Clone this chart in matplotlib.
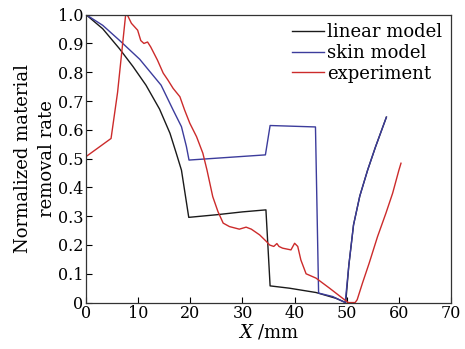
import matplotlib
matplotlib.use("Agg")
import matplotlib.pyplot as plt
from matplotlib.ticker import FixedLocator, FuncFormatter

plt.rcParams['font.family'] = ['DejaVu Serif']
plt.rcParams['mathtext.fontset'] = 'dejavuserif'

linear_x = [0, 3.2, 6.4, 9.0, 11.5, 14.1, 16.1, 17.3, 18.3, 19.7, 25, 30, 34.5, 35.3,
            39.0, 44.1, 47.9, 49.8, 50.4, 51.3, 52.5, 54.0, 55.5, 57.6]
linear_y = [1.0, 0.951, 0.882, 0.82, 0.755, 0.672, 0.588, 0.519, 0.46, 0.296, 0.305,
            0.315, 0.322, 0.058, 0.05, 0.035, 0.015, 0.0, 0.13, 0.27, 0.37, 0.46, 0.54, 0.644]

skin_x = [0, 3.2, 6.4, 10.3, 14.4, 16.7, 18.3, 19.25, 19.75, 34.4, 35.3, 44.0, 44.6, 47.3, 49.7,
          50.4, 51.3, 52.5, 54.0, 55.5, 57.6]
skin_y = [1.0, 0.963, 0.911, 0.845, 0.755, 0.669, 0.611, 0.542, 0.495, 0.513, 0.615, 0.61, 0.033,
          0.021, 0.0, 0.13, 0.27, 0.37, 0.46, 0.54, 0.644]

exp_x = [0, 4.8, 6.05, 7.6, 7.9, 8.7, 9.9, 10.5, 11.1, 11.8, 12.4, 13.7, 14.8, 15.7, 16.7, 18.0,
         18.9, 19.9, 21.2, 22.4, 23.2, 24.3, 25.3, 26.3, 27.5, 29.4, 30.7, 31.7, 33.3, 34.6, 35.2,
         36.0, 36.6, 37.0, 37.7, 39.3, 40.0, 40.6, 41.2, 42.2, 44.1, 46.7, 49.2, 50.3, 51.6, 52.0,
         53.0, 54.3, 55.9, 57.5, 58.8, 60.0, 60.4]
exp_y = [0.507, 0.57, 0.73, 1.0, 1.0, 0.97, 0.946, 0.91, 0.90, 0.905, 0.888, 0.842, 0.797, 0.773,
         0.744, 0.715, 0.669, 0.623, 0.576, 0.519, 0.46, 0.368, 0.316, 0.276, 0.264, 0.255, 0.262,
         0.255, 0.235, 0.212, 0.20, 0.195, 0.205, 0.195, 0.189, 0.183, 0.206, 0.195, 0.148, 0.10,
         0.085, 0.05, 0.015, 0.0, 0.0, 0.01, 0.067, 0.137, 0.229, 0.31, 0.38, 0.46, 0.484]

labels = ["linear model", "skin model", "experiment"]
x_ticks = [0, 10, 20, 30, 40, 50, 60, 70]
y_ticks = [0, 0.1, 0.2, 0.3, 0.4, 0.5, 0.6, 0.7, 0.8, 0.9, 1.0]

fig = plt.figure(figsize=(4.65, 3.49), dpi=100)
ax = fig.add_axes([0.185, 0.133, 0.785, 0.825])

ax.plot(linear_x, linear_y, color='#1a1a1a', lw=1.0, label=labels[0])
ax.plot(skin_x, skin_y, color='#3c3c9c', lw=1.0, label=labels[1])
ax.plot(exp_x, exp_y, color='#cc2b2b', lw=1.0, label=labels[2])

ax.set_xlim(0, 70)
ax.set_ylim(0, 1.0)
ax.xaxis.set_major_locator(FixedLocator(x_ticks))
ax.yaxis.set_major_locator(FixedLocator(y_ticks))
ax.yaxis.set_major_formatter(FuncFormatter(lambda v, p: "0" if v == 0 else f"{v:.1f}"))
ax.tick_params(direction='in', length=4, width=0.8, labelsize=11.5, pad=2)
for s in ax.spines.values():
    s.set_linewidth(0.9)
    s.set_color('#333333')

ax.set_xlabel(r"$X$ /mm", fontsize=13, labelpad=0)
ax.set_ylabel("Normalized material\nremoval rate", fontsize=13, labelpad=1, linespacing=1.45)

ax.legend(loc='upper right', frameon=False, fontsize=13, handlelength=1.8,
          handletextpad=0.15, labelspacing=0.15, borderaxespad=0.0,
          bbox_to_anchor=(0.995, 0.995))

fig.savefig("out.png", dpi=100)
